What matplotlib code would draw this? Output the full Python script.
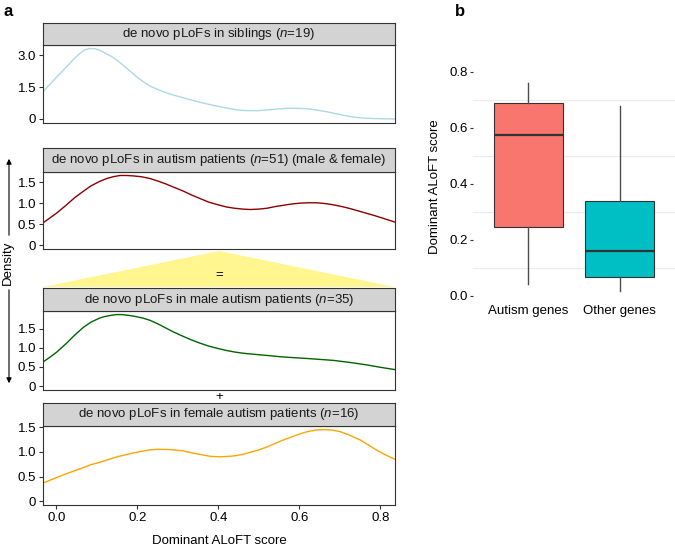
import matplotlib
matplotlib.use("Agg")
import matplotlib.pyplot as plt
from matplotlib.patches import Polygon

plt.rcParams['font.family'] = ['Liberation Sans', 'DejaVu Sans']
plt.rcParams['mathtext.fontset'] = 'custom'
plt.rcParams['mathtext.rm'] = 'Liberation Sans'
plt.rcParams['mathtext.it'] = 'Liberation Sans:italic'

## data ########################################################################

# density curves
sib_x = [-0.033, -0.015, 0.0, 0.025, 0.045, 0.058, 0.07, 0.082, 0.095, 0.107, 0.12,
         0.135, 0.149, 0.165, 0.18, 0.196, 0.214, 0.23, 0.248, 0.27, 0.297, 0.325,
         0.355, 0.39, 0.421, 0.445, 0.47, 0.495, 0.52, 0.545, 0.57, 0.602, 0.625,
         0.643, 0.665, 0.685, 0.71, 0.734, 0.76, 0.784, 0.81, 0.836]
sib_y = [1.28, 1.65, 1.95, 2.45, 2.85, 3.08, 3.24, 3.31, 3.30, 3.23, 3.10,
         2.95, 2.77, 2.52, 2.28, 2.02, 1.76, 1.56, 1.40, 1.24, 1.08, 0.93,
         0.78, 0.63, 0.51, 0.43, 0.39, 0.39, 0.42, 0.47, 0.50, 0.50, 0.47,
         0.42, 0.35, 0.27, 0.17, 0.09, 0.04, 0.02, 0.01, 0.0]

aut_x = [-0.033, 0.0, 0.025, 0.045, 0.066, 0.085, 0.107, 0.125, 0.14, 0.157, 0.173,
         0.19, 0.21, 0.23, 0.25, 0.27, 0.29, 0.313, 0.335, 0.355, 0.375, 0.396,
         0.42, 0.44, 0.46, 0.478, 0.5, 0.52, 0.54, 0.56, 0.58, 0.60, 0.62, 0.643,
         0.665, 0.685, 0.705, 0.726, 0.755, 0.784, 0.81, 0.836]
aut_y = [0.53, 0.76, 0.96, 1.13, 1.28, 1.41, 1.52, 1.59, 1.63, 1.66, 1.66,
         1.65, 1.63, 1.59, 1.53, 1.46, 1.38, 1.29, 1.19, 1.11, 1.03, 0.97,
         0.91, 0.88, 0.86, 0.85, 0.86, 0.88, 0.92, 0.95, 0.98, 1.00, 1.01, 1.01,
         0.99, 0.96, 0.92, 0.87, 0.79, 0.71, 0.63, 0.55]

male_x = [-0.033, -0.015, 0.0, 0.025, 0.045, 0.066, 0.085, 0.107, 0.12, 0.135, 0.148,
          0.161, 0.178, 0.195, 0.213, 0.231, 0.25, 0.27, 0.29, 0.313, 0.335, 0.355,
          0.375, 0.396, 0.42, 0.44, 0.46, 0.478, 0.52, 0.56, 0.62, 0.685, 0.73,
          0.768, 0.80, 0.836]
male_y = [0.63, 0.76, 0.88, 1.12, 1.33, 1.53, 1.67, 1.78, 1.82, 1.85, 1.87,
          1.87, 1.85, 1.82, 1.78, 1.72, 1.63, 1.52, 1.41, 1.30, 1.20, 1.12,
          1.05, 0.99, 0.93, 0.89, 0.86, 0.84, 0.80, 0.76, 0.72, 0.67, 0.61,
          0.55, 0.49, 0.43]

fem_x = [-0.033, 0.0, 0.025, 0.045, 0.066, 0.085, 0.107, 0.13, 0.15, 0.17, 0.19,
         0.21, 0.23, 0.248, 0.27, 0.29, 0.313, 0.335, 0.36, 0.38, 0.404, 0.425,
         0.44, 0.46, 0.478, 0.5, 0.52, 0.54, 0.56, 0.58, 0.60, 0.62, 0.64, 0.66,
         0.68, 0.70, 0.72, 0.75, 0.77, 0.79, 0.81, 0.836]
fem_y = [0.37, 0.48, 0.56, 0.62, 0.68, 0.74, 0.79, 0.85, 0.90, 0.94, 0.98,
         1.01, 1.04, 1.05, 1.05, 1.04, 1.02, 0.98, 0.94, 0.91, 0.90, 0.91,
         0.92, 0.95, 0.99, 1.04, 1.10, 1.17, 1.24, 1.30, 1.36, 1.41, 1.44, 1.45,
         1.44, 1.41, 1.35, 1.24, 1.14, 1.04, 0.95, 0.85]

panel_titles = [
    r"de novo pLoFs in siblings ($n$=19)",
    r"de novo pLoFs in autism patients ($n$=51) (male & female)",
    r"de novo pLoFs in male autism patients ($n$=35)",
    r"de novo pLoFs in female autism patients ($n$=16)",
]
panel_colors = ["#ADD8E6", "#8B0000", "#006400", "#FFA500"]
panel_yticks = [[0, 1.5, 3.0], [0, 0.5, 1.0, 1.5], [0, 0.5, 1.0, 1.5], [0, 0.5, 1.0, 1.5]]
panel_yticklabels = [["0", "1.5", "3.0"], ["0", "0.5", "1.0", "1.5"],
                     ["0", "0.5", "1.0", "1.5"], ["0", "0.5", "1.0", "1.5"]]
x_ticks = [0.0, 0.2, 0.4, 0.6, 0.8]

# box plot stats
box_groups = ["Autism genes", "Other genes"]
box_colors = ["#F8766D", "#00BFC4"]
box_whislo = [0.043, 0.019]
box_q1 = [0.245, 0.069]
box_med = [0.575, 0.161]
box_q3 = [0.690, 0.339]
box_whishi = [0.762, 0.679]

## layout ######################################################################

W, H = 675, 546
FS = 9.5
EDGE = "#333333"


def px_rect(l, t, r, b):
    return [l / W, 1 - b / H, (r - l) / W, (b - t) / H]


fig = plt.figure(figsize=(W / 100, H / 100), dpi=100)

PL, PR = 43, 395
# (strip top, plot top, plot bottom)
rows = [(23, 45, 122.5), (148, 172, 248.7), (288, 311, 389.6), (403, 426, 505)]
curves = [(sib_x, sib_y), (aut_x, aut_y), (male_x, male_y), (fem_x, fem_y)]

for k, (st, pt, pb) in enumerate(rows):
    xs, ys = curves[k]
    ax = fig.add_axes(px_rect(PL, pt, PR, pb))
    ax.plot(xs, ys, color=panel_colors[k], lw=1.0)
    ymax = max(ys)
    ax.set_ylim(-0.05 * ymax, 1.05 * ymax)
    ax.set_xlim(xs[0], xs[-1])
    ax.set_yticks(panel_yticks[k])
    ax.set_yticklabels(panel_yticklabels[k])
    ax.tick_params(axis="y", length=3, width=0.8, color=EDGE, labelsize=FS, pad=2)
    if k == 3:
        ax.set_xticks(x_ticks)
        ax.set_xticklabels([f"{v:.1f}" for v in x_ticks])
        ax.tick_params(axis="x", length=3, width=0.8, color=EDGE, labelsize=FS, pad=2)
        ax.set_xlabel("Dominant ALoFT score", fontsize=FS, labelpad=8)
    else:
        ax.set_xticks([])
    for s in ax.spines.values():
        s.set_color(EDGE)
        s.set_linewidth(0.8)

    sax = fig.add_axes(px_rect(PL, st, PR, pt))
    sax.set_facecolor("#D3D3D3")
    sax.set_xticks([])
    sax.set_yticks([])
    for s in sax.spines.values():
        s.set_color(EDGE)
        s.set_linewidth(0.8)
    sax.text(0.5, 0.5, panel_titles[k], ha="center", va="center",
             fontsize=FS, color="#1a1a1a", transform=sax.transAxes)

# yellow triangle between total and male panel
tax = fig.add_axes(px_rect(PL, 251, PR, 287))
tax.add_patch(Polygon([(0, 0), (0.5, 1), (1, 0)], closed=True,
                      facecolor="#FFF68F", edgecolor="none"))
tax.set_xlim(0, 1)
tax.set_ylim(0, 1)
tax.axis("off")
fig.text(219 / W, 1 - 275 / H, "=", ha="center", va="center", fontsize=FS)
fig.text(219 / W, 1 - 397 / H, "+", ha="center", va="center", fontsize=FS)

# shared density label with arrows
fig.text(8 / W, 1 - 263 / H, "Density", rotation=90, ha="center", va="center", fontsize=FS)
fig.patches.append(matplotlib.patches.FancyArrowPatch(
    (9 / W, 1 - 238 / H), (9 / W, 1 - 156 / H), transform=fig.transFigure,
    arrowstyle="-|>,head_length=3,head_width=1.5", color="black", lw=0.8))
fig.patches.append(matplotlib.patches.FancyArrowPatch(
    (9 / W, 1 - 287 / H), (9 / W, 1 - 386 / H), transform=fig.transFigure,
    arrowstyle="-|>,head_length=3,head_width=1.5", color="black", lw=0.8))

fig.text(4 / W, 1 - 11 / H, "a", fontsize=12, fontweight="bold", ha="left", va="center")
fig.text(455 / W, 1 - 11 / H, "b", fontsize=12, fontweight="bold", ha="left", va="center")

## panel b ####################################################################

bax = fig.add_axes(px_rect(473, 72, 675, 301))
for y in [0.1, 0.3, 0.5, 0.7]:
    bax.axhline(y, color="#EBEBEB", lw=0.8, zorder=0)
stats = []
for i, g in enumerate(box_groups):
    stats.append(dict(label=g, whislo=box_whislo[i], q1=box_q1[i], med=box_med[i],
                      q3=box_q3[i], whishi=box_whishi[i], fliers=[]))
bp = bax.bxp(stats, positions=[1, 2], widths=0.75, patch_artist=True, showcaps=False,
             boxprops=dict(edgecolor=EDGE, linewidth=0.8),
             whiskerprops=dict(color="#4D4D4D", linewidth=1.0),
             medianprops=dict(color=EDGE, linewidth=1.6))
for patch, c in zip(bp["boxes"], box_colors):
    patch.set_facecolor(c)
bax.set_xlim(0.4, 2.6)
bax.set_ylim(-0.018, 0.8)
bax.set_yticks([0.0, 0.2, 0.4, 0.6, 0.8])
bax.set_yticklabels(["0.0", "0.2", "0.4", "0.6", "0.8"])
bax.tick_params(axis="y", length=2, width=0.8, color="#333333", labelsize=FS, pad=2)
bax.tick_params(axis="x", length=0, labelsize=FS, pad=3)
for s in bax.spines.values():
    s.set_visible(False)
bax.set_ylabel("Dominant ALoFT score", fontsize=FS, labelpad=6)

fig.savefig("out.png", dpi=100)
